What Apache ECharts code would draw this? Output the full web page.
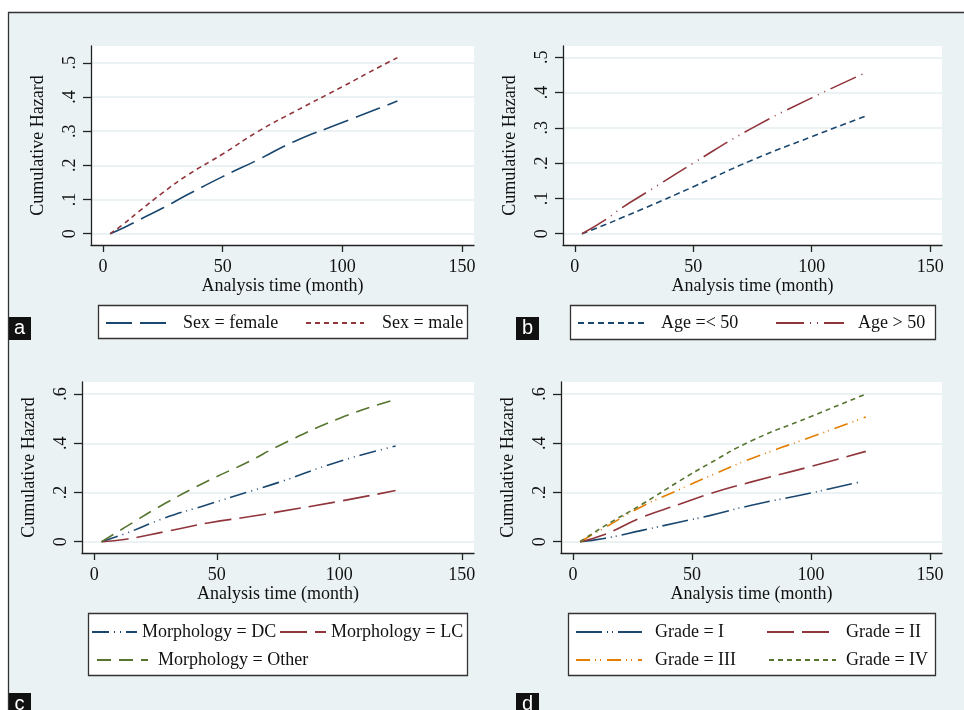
<!DOCTYPE html>
<html>
<head>
<meta charset="utf-8">
<script src="https://cdn.jsdelivr.net/npm/echarts@6/dist/echarts.min.js"></script>
<style>
html,body{margin:0;padding:0;background:#fff;}
#c{width:964px;height:710px;}
</style>
</head>
<body>
<div id="c"></div>
<script>
// ---- data ----
const timeA = [3, 8, 15, 25, 35, 50, 65, 80, 100, 115, 123];
const sexFemale = [0, 0.015, 0.04, 0.075, 0.113, 0.167, 0.217, 0.27, 0.325, 0.366, 0.388];
const sexMale = [0, 0.025, 0.065, 0.12, 0.17, 0.233, 0.3, 0.357, 0.43, 0.486, 0.515];

const timeB = [3, 13, 20, 30, 50, 75, 100, 123];
const ageLE50 = [0, 0.026, 0.046, 0.074, 0.133, 0.209, 0.275, 0.334];
const ageGT50 = [0, 0.04, 0.074, 0.116, 0.2, 0.3, 0.385, 0.457];

const timeC = [3, 13, 29, 47, 63, 75, 100, 123];
const morphDC = [0, 0.034, 0.097, 0.153, 0.203, 0.24, 0.326, 0.389];
const morphLC = [0, 0.01, 0.041, 0.077, 0.101, 0.121, 0.164, 0.208];
const morphOther = [0, 0.061, 0.156, 0.25, 0.325, 0.388, 0.501, 0.578];

const timeD = [3, 13, 29, 45, 57, 75, 100, 123];
const timeGradeI = [3, 13, 29, 45, 57, 75, 100, 121];
const gradeI = [0, 0.013, 0.046, 0.08, 0.105, 0.148, 0.198, 0.244];
const gradeII = [0, 0.028, 0.099, 0.153, 0.193, 0.243, 0.306, 0.367];
const gradeIII = [0, 0.055, 0.143, 0.213, 0.265, 0.338, 0.425, 0.507];
const gradeIV = [0, 0.062, 0.152, 0.248, 0.316, 0.41, 0.509, 0.6];

const xTicks = [0, 50, 100, 150];
const yTicksAB = [0, 0.1, 0.2, 0.3, 0.4, 0.5];
const yTicksCD = [0, 0.2, 0.4, 0.6];
const xTitle = 'Analysis time (month)';
const yTitle = 'Cumulative Hazard';

// ---- styling ----
const NAVY = '#1a476f', MAROON = '#90353b', GREEN = '#55752f', ORANGE = '#e37e00';
const BG = '#eaf2f3';
const SERIF = "'Liberation Serif','DejaVu Serif',serif";
const AX = '#222';
const FS = 18;

const pair = (xs, ys) => xs.map((x, i) => [x, ys[i]]);
const fmtY = v => (v === 0 ? '0' : String(+v.toFixed(2)).replace(/^0/, ''));

const grids = [
  {left: 91, top: 46, width: 383, height: 199},
  {left: 563, top: 46, width: 379, height: 199},
  {left: 82, top: 382, width: 392, height: 171},
  {left: 561, top: 382, width: 381, height: 171}
].map(g => Object.assign(g, {show: true, backgroundColor: '#fff', borderWidth: 0}));

const yRanges = [[-0.033, 0.549], [-0.032, 0.532], [-0.046, 0.649], [-0.046, 0.649]];
const yTickSets = [yTicksAB, yTicksAB, yTicksCD, yTicksCD];

const xAxes = grids.map((g, i) => ({
  type: 'value', gridIndex: i, min: -5, max: 155,
  axisLine: {show: true, onZero: false, lineStyle: {color: AX, width: 1.3}},
  axisTick: {show: true, length: 7, customValues: xTicks, lineStyle: {color: AX, width: 1.3}},
  axisLabel: {customValues: xTicks, fontFamily: SERIF, fontSize: FS, color: '#111', margin: 13},
  splitLine: {show: false},
  name: xTitle, nameLocation: 'middle', nameGap: 31,
  nameTextStyle: {fontFamily: SERIF, fontSize: FS, color: '#111'}
}));

const yAxes = grids.map((g, i) => ({
  type: 'value', gridIndex: i, min: yRanges[i][0], max: yRanges[i][1],
  axisLine: {show: true, onZero: false, lineStyle: {color: AX, width: 1.3}},
  axisTick: {show: true, length: 8, customValues: yTickSets[i], lineStyle: {color: AX, width: 1.3}},
  axisLabel: {customValues: yTickSets[i], rotate: 90, formatter: fmtY,
    fontFamily: SERIF, fontSize: FS, color: '#111', margin: 12},
  splitLine: {show: true, lineStyle: {color: BG, width: 2}},
  name: yTitle, nameLocation: 'middle', nameGap: 44, nameRotate: 90,
  nameTextStyle: {fontFamily: SERIF, fontSize: FS, color: '#111'}
}));

function line(name, idx, xs, ys, color, dash) {
  return {
    name, type: 'line', xAxisIndex: idx, yAxisIndex: idx,
    data: pair(xs, ys), showSymbol: false, symbol: 'none', smooth: 0.5,
    lineStyle: {color, width: 1.6, type: dash},
    itemStyle: {color}, emphasis: {disabled: true}, animation: false
  };
}

const LONG = [26, 8], SHORT = [5, 4];
const series = [
  line('Sex = female', 0, timeA, sexFemale, NAVY, LONG),
  line('Sex = male', 0, timeA, sexMale, MAROON, SHORT),
  line('Age =< 50', 1, timeB, ageLE50, NAVY, [6, 4]),
  line('Age > 50', 1, timeB, ageGT50, MAROON, [28, 6, 1, 6, 1, 6]),
  line('Morphology = DC', 2, timeC, morphDC, NAVY, [17, 5, 1, 5, 1, 5]),
  line('Morphology = LC', 2, timeC, morphLC, MAROON, [27, 8]),
  line('Morphology = Other', 2, timeC, morphOther, GREEN, [14, 8]),
  line('Grade = I', 3, timeGradeI, gradeI, NAVY, [26, 5, 1, 4, 1, 5]),
  line('Grade = II', 3, timeD, gradeII, MAROON, [27, 8]),
  line('Grade = III', 3, timeD, gradeIII, ORANGE, [14, 5, 1, 4, 1, 6]),
  line('Grade = IV', 3, timeD, gradeIV, GREEN, SHORT)
];

function leg(name, left, cy, w, gap) {
  return {
    data: [name], left, top: cy - 10, itemWidth: w, itemHeight: 14, padding: 0,
    selectedMode: false, itemGap: 0,
    itemStyle: {opacity: 0},
    textStyle: {fontFamily: SERIF, fontSize: FS, color: '#111', padding: [0, 0, 0, Math.max(0, gap - 5)], lineHeight: 20}
  };
}
const legends = [
  leg('Sex = female', 105, 323, 63, 14),
  leg('Sex = male', 305, 323, 58, 18),
  leg('Age =< 50', 577, 323, 69, 14),
  leg('Age > 50', 775, 323, 68, 14),
  leg('Morphology = DC', 91, 632, 45, 5),
  leg('Morphology = LC', 279, 632, 46, 5),
  leg('Morphology = Other', 96, 660, 51, 10),
  leg('Grade = I', 575, 632, 66, 13),
  leg('Grade = II', 766, 632, 64, 15),
  leg('Grade = III', 575, 660, 66, 13),
  leg('Grade = IV', 768, 660, 67, 10)
];

function tag(letter, x, y) {
  return [
    {type: 'rect', shape: {x, y, width: 23, height: 23}, style: {fill: '#111'}, z: 1},
    {type: 'text', x: x + 11.5, y: y + 11.5, z: 2,
      style: {text: letter, fill: '#fff', font: "20px 'Liberation Sans', Arial, sans-serif", align: 'center', verticalAlign: 'middle'}}
  ];
}
function box(x, y, w, h) {
  return {type: 'rect', shape: {x: x + 0.5, y: y + 0.5, width: w, height: h}, style: {fill: '#fff', stroke: '#333', lineWidth: 1.3}, z: 1};
}

const graphic = [
  {type: 'rect', shape: {x: 0, y: 0, width: 964, height: 12}, style: {fill: '#fff'}, z: 1},
  {type: 'rect', shape: {x: 0, y: 0, width: 8, height: 710}, style: {fill: '#fff'}, z: 1},
  {type: 'line', shape: {x1: 8, y1: 12.5, x2: 964, y2: 12.5}, style: {stroke: '#333', lineWidth: 1.3}, z: 2},
  {type: 'line', shape: {x1: 8.5, y1: 12, x2: 8.5, y2: 710}, style: {stroke: '#333', lineWidth: 1.3}, z: 2},
  box(98, 305, 369, 33),
  box(570, 305, 365, 34),
  box(88, 613, 379, 62),
  box(568, 613, 367, 62),
  ...tag('a', 8, 317), ...tag('b', 516, 317), ...tag('c', 8, 693), ...tag('d', 516, 693)
];

const chart = echarts.init(document.getElementById('c'), null, {renderer: 'canvas'});
chart.setOption({
  backgroundColor: BG,
  animation: false,
  grid: grids, xAxis: xAxes, yAxis: yAxes,
  series, legend: legends, graphic
});
</script>
</body>
</html>
